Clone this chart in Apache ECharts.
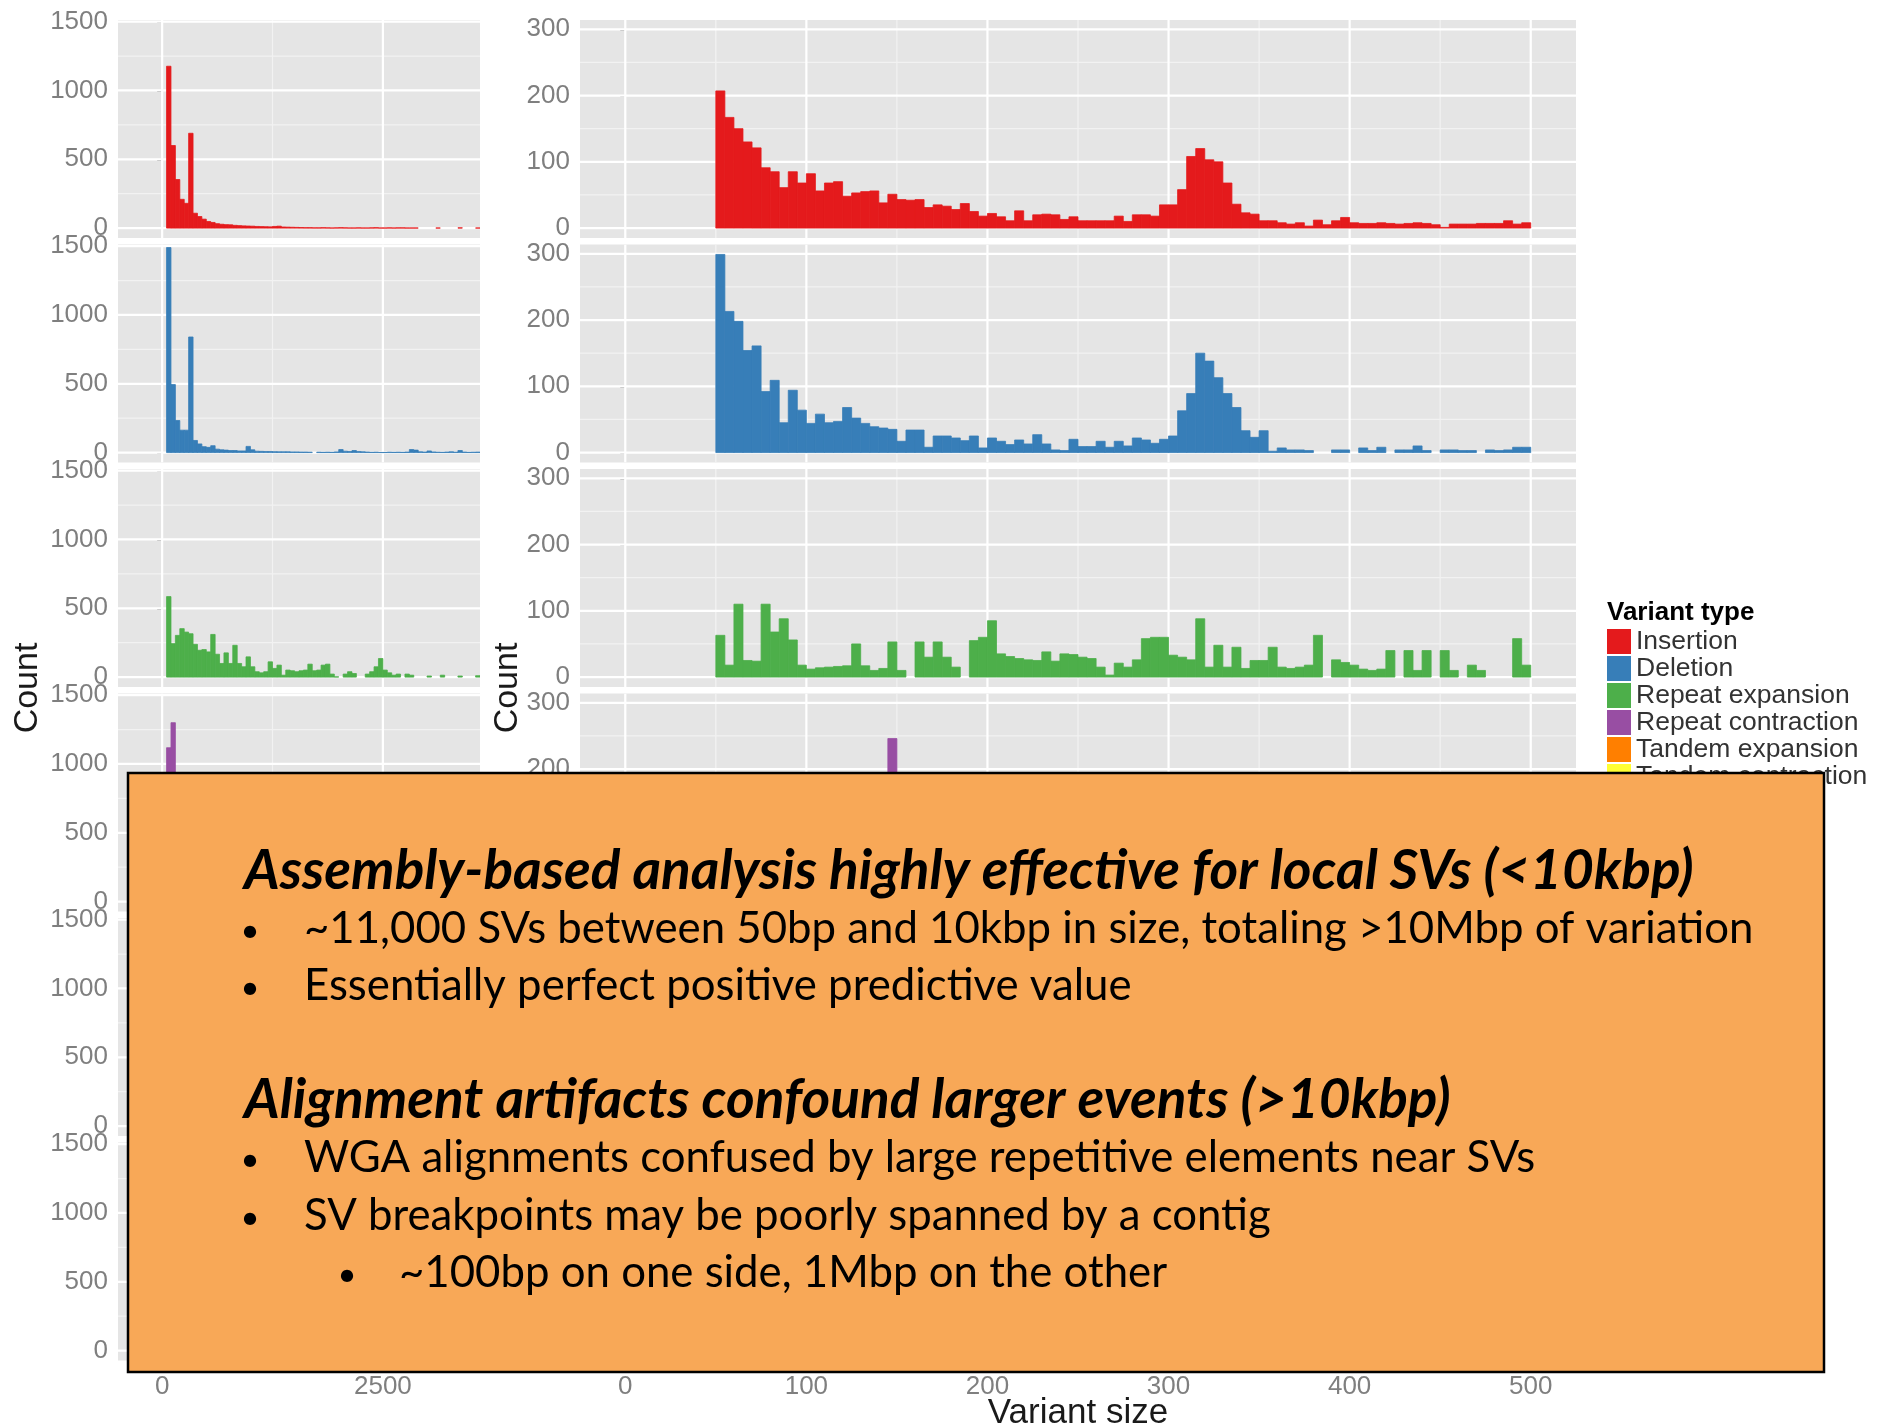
<!DOCTYPE html>
<html><head><meta charset="utf-8">
<script src="https://cdn.jsdelivr.net/npm/echarts@6/dist/echarts.min.js"></script>
<style>html,body{margin:0;padding:0;background:#fff}#c{width:1894px;height:1425px}</style>
</head><body><div id="c"></div>
<script>
// ---------------- data ----------------
const variantTypes = ['Insertion','Deletion','Repeat expansion','Repeat contraction','Tandem expansion','Tandem contraction'];
const typeColors = ['#E41A1C','#377EB8','#4DAF4A','#984EA3','#FF7F00','#FFFF33'];

// wide-range panels (left column): 50 bp bins starting at 50 bp
const wideBinStart = 50, wideBinWidth = 50;
const wideInsertion = [1176,600,353,209,180,689,108,84,65,48, 41,32,28,25,24,20,18,16,15,14, 12,11,10,9,12,14,8,7,6,5, 4,3,3,2,2,3,2,1,2,3, 2,1,1,2,1,1,2,3,1,1, 2,1,2,2,1,1,1,0,0,0, 0,1,0,0,0,0,2,0,0,0, 1];
const wideDeletion = [1490,494,233,163,163,840,88,63,43,38, 50,25,20,18,15,15,12,12,45,20, 10,9,8,8,7,6,6,6,5,5, 4,4,3,0,3,2,3,2,5,22, 10,8,15,8,6,4,2,3,1,1, 3,2,3,2,4,22,18,6,4,12, 5,3,2,4,6,3,15,4,2,3, 4];
const wideRepeatExpansion = [585,243,303,352,327,315,238,195,200,183, 310,166,99,176,99,231,99,75,147,75, 39,31,39,111,63,87,14,51,46,39, 46,51,94,46,51,87,94,22,2,0, 22,39,26,0,0,22,39,75,135,51, 31,14,22,0,22,14,0,0,0,8, 0,0,14,0,0,0,8,0,0,0, 10];
const wideRepeatContraction = [1118,1300];
const wideTandemExpansion = [];
const wideTandemContraction = [];

// zoomed panels (right column): 5 bp bins from 50 to 500 bp
const narrowBinStart = 50, narrowBinWidth = 5;
const narrowInsertion = [207,167,150,130,121,91,85,61,85,68, 82,56,68,70,48,53,55,56,38,51, 43,42,43,31,35,33,28,37,25,18, 22,17,11,26,11,20,21,20,13,17, 11,11,11,11,18,10,20,20,18,35, 35,58,108,120,103,100,68,36,23,21, 11,11,8,6,8,3,12,5,11,16, 8,7,7,8,7,6,7,8,7,5, 1,6,6,6,7,7,7,11,6,8];
const narrowDeletion = [299,213,198,154,161,92,109,45,94,64, 44,58,45,47,68,52,44,39,37,35, 17,34,34,8,25,25,22,18,25,7, 22,17,12,19,13,27,13,4,3,20, 9,9,17,8,17,10,22,19,14,20, 25,63,89,150,138,113,89,68,33,23, 33,2,7,4,4,3,0,0,4,4, 0,7,3,8,0,4,4,10,3,0, 4,4,3,3,0,4,3,4,8,8];
const narrowRepeatExpansion = [63,18,110,25,24,110,68,88,56,18, 12,14,15,16,17,50,17,10,13,53, 10,0,53,30,53,30,15,0,55,60, 85,35,31,28,26,25,38,24,35,34, 30,28,15,3,21,15,26,58,60,60, 33,30,26,88,15,48,15,45,13,25, 25,45,15,13,15,18,63,0,26,22, 18,12,10,12,40,0,40,10,40,0, 40,10,0,18,10,0,0,0,58,18];
const narrowRepeatContraction = [null,null,null,null,null,null,null,null,null,null, null,null,null,null,null,null,null,null,null,246];
const narrowTandemExpansion = [];
const narrowTandemContraction = [];

// tick labels
const wideXTicks = [0, 2500], wideXMinor = [1250];
const narrowXTicks = [0, 100, 200, 300, 400, 500], narrowXMinor = [50, 150, 250, 350, 450];
const wideYTicks = [0, 500, 1000, 1500], wideYMinor = [250, 750, 1250];
const narrowYTicks = [0, 100, 200, 300], narrowYMinor = [50, 150, 250];

const wideCounts = [wideInsertion, wideDeletion, wideRepeatExpansion, wideRepeatContraction, wideTandemExpansion, wideTandemContraction];
const narrowCounts = [narrowInsertion, narrowDeletion, narrowRepeatExpansion, narrowRepeatContraction, narrowTandemExpansion, narrowTandemContraction];

// ---------------- chart ----------------
const chart = echarts.init(document.getElementById('c'), null, {renderer: 'canvas'});
const TICK_FONT = 'Liberation Sans';
const tickColor = '#7F7F7F';
const plain = v => String(v);

function barRender(params, api) {
  const c = api.value(2);
  if (c === null || c === undefined || isNaN(c) || c <= 0) return;
  const p0 = api.coord([api.value(0), 0]);
  const p1 = api.coord([api.value(1), c]);
  const col = api.visual('color');
  return {type: 'rect', shape: {x: p0[0], y: p1[1], width: p1[0] - p0[0], height: p0[1] - p1[1]},
          style: {fill: col, stroke: col, lineWidth: 0.8}};
}
function gridRender(params, api) {
  const dir = api.value(0), v = api.value(1), major = api.value(2);
  const cs = params.coordSys;
  let shape;
  if (dir === 0) { const x = api.coord([v, 0])[0]; shape = {x1: x, y1: cs.y, x2: x, y2: cs.y + cs.height}; }
  else { const y = api.coord([0, v])[1]; shape = {x1: cs.x, y1: y, x2: cs.x + cs.width, y2: y}; }
  return {type: 'line', shape, style: {stroke: major ? '#FFFFFF' : '#F2F2F2', lineWidth: major ? 2.2 : 1.2}};
}

const grids = [], xAxes = [], yAxes = [], series = [];
for (let r = 0; r < 6; r++) {
  for (let c = 0; c < 2; c++) {
    const idx = r * 2 + c;
    const narrow = c === 1;
    const bottom = r === 5;
    grids.push({left: narrow ? 580 : 118, width: narrow ? 996 : 362, top: 20 + 224.5 * r, height: 218,
                show: true, backgroundColor: '#E5E5E5', borderWidth: 0, containLabel: false});
    const xt = narrow ? narrowXTicks : wideXTicks;
    const yt = narrow ? narrowYTicks : wideYTicks;
    xAxes.push({type: 'value', gridIndex: idx, min: narrow ? -25 : -500, max: narrow ? 525 : 3600,
      axisLine: {show: false}, splitLine: {show: false},
      axisTick: {show: bottom, length: 5, lineStyle: {color: tickColor, width: 1.5}, customValues: xt},
      axisLabel: {show: bottom, margin: 13, color: tickColor, fontSize: 26, fontFamily: TICK_FONT, customValues: xt, formatter: plain}});
    yAxes.push({type: 'value', gridIndex: idx, min: narrow ? -15 : -72, max: narrow ? 314 : 1512,
      axisLine: {show: false}, splitLine: {show: false},
      axisTick: {show: true, length: 5, lineStyle: {color: tickColor, width: 1.5}, customValues: yt},
      axisLabel: {show: true, margin: 10, color: tickColor, fontSize: 26, fontFamily: TICK_FONT, customValues: yt, formatter: plain}});
    const gl = [];
    (narrow ? narrowXMinor : wideXMinor).forEach(v => gl.push([0, v, 0]));
    (narrow ? narrowYMinor : wideYMinor).forEach(v => gl.push([1, v, 0]));
    xt.forEach(v => gl.push([0, v, 1]));
    yt.forEach(v => gl.push([1, v, 1]));
    series.push({type: 'custom', xAxisIndex: idx, yAxisIndex: idx, z: 1, silent: true, clip: true,
                 renderItem: gridRender, data: gl});
    const counts = narrow ? narrowCounts[r] : wideCounts[r];
    const start = narrow ? narrowBinStart : wideBinStart;
    const w = narrow ? narrowBinWidth : wideBinWidth;
    series.push({type: 'custom', name: variantTypes[r], xAxisIndex: idx, yAxisIndex: idx, z: 2, silent: true, clip: true,
                 itemStyle: {color: typeColors[r]}, renderItem: barRender, encode: {x: [0, 1], y: 2},
                 data: counts.map((v, k) => [start + k * w, start + (k + 1) * w, v])});
  }
}

// text of the overlay box
const heading1 = 'Assembly-based analysis highly effective for local SVs (<10kbp)';
const bullets1 = ['~11,000 SVs between 50bp and 10kbp in size, totaling >10Mbp of variation', 'Essentially perfect positive predictive value'];
const heading2 = 'Alignment artifacts confound larger events (>10kbp)';
const bullets2 = ['WGA alignments confused by large repetitive elements near SVs', 'SV breakpoints may be poorly spanned by a contig'];
const subBullet = '~100bp on one side, 1Mbp on the other';

const meas = document.createElement('canvas').getContext('2d');
function fit(text, style, family, target) {
  meas.font = style + ' 100px ' + family;
  return 100 * target / meas.measureText(text).width;
}
const BODY = 'Lato';
const bodySize = fit(bullets1[0], 'normal', BODY, 1450);
const headSize = fit(heading1, 'italic bold', BODY, 1450);

function txt(x, y, text, opts) {
  return Object.assign({type: 'text', x: x, y: y, z: 101, silent: true,
    style: Object.assign({text: text, fill: '#000', fontFamily: BODY, fontSize: bodySize,
      textAlign: 'left', textVerticalAlign: 'middle'}, opts || {})});
}
const bulletOpts = {textAlign: 'center', fontSize: bodySize * 0.75};

const graphics = [
  {type: 'rect', z: 100, silent: true, shape: {x: 128, y: 773, width: 1696, height: 599},
   style: {fill: '#F8A857', stroke: '#000', lineWidth: 2.5}},
  txt(244, 871, heading1, {fontStyle: 'italic', fontWeight: 'bold', fontSize: headSize}),
  txt(250, 931, '\u2022', bulletOpts),
  txt(304, 929, bullets1[0]),
  txt(250, 988, '\u2022', bulletOpts),
  txt(304, 986, bullets1[1]),
  txt(244, 1100, heading2, {fontStyle: 'italic', fontWeight: 'bold', fontSize: headSize}),
  txt(250, 1160, '\u2022', bulletOpts),
  txt(304, 1158, bullets2[0]),
  txt(250, 1218, '\u2022', bulletOpts),
  txt(304, 1216, bullets2[1]),
  txt(347, 1275, '\u2022', bulletOpts),
  txt(399, 1273, subBullet),
  // axis titles
  {type: 'text', x: 28, y: 688, rotation: Math.PI / 2, z: 5, silent: true,
   style: {text: 'Count', fill: '#1A1A1A', fontFamily: TICK_FONT, fontSize: 34, textAlign: 'center', textVerticalAlign: 'middle'}},
  {type: 'text', x: 508, y: 688, rotation: Math.PI / 2, z: 5, silent: true,
   style: {text: 'Count', fill: '#1A1A1A', fontFamily: TICK_FONT, fontSize: 34, textAlign: 'center', textVerticalAlign: 'middle'}},
  {type: 'text', x: 1078, y: 1413, z: 5, silent: true,
   style: {text: 'Variant size', fill: '#1A1A1A', fontFamily: TICK_FONT, fontSize: 35, textAlign: 'center', textVerticalAlign: 'middle'}},
  {type: 'text', x: 1607, y: 613, z: 5, silent: true,
   style: {text: 'Variant type', fill: '#000', fontFamily: TICK_FONT, fontWeight: 'bold', fontSize: 26, textAlign: 'left', textVerticalAlign: 'middle'}}
];

chart.setOption({
  animation: false,
  backgroundColor: '#FFFFFF',
  grid: grids, xAxis: xAxes, yAxis: yAxes, series: series,
  legend: {data: variantTypes, orient: 'vertical', left: 1607, top: 628, itemWidth: 24, itemHeight: 25, itemGap: 0,
           icon: 'rect', selectedMode: false, padding: 0,
           textStyle: {fontSize: 26.5, color: '#333', fontFamily: TICK_FONT, lineHeight: 25}},
  graphic: {elements: graphics}
});
</script></body></html>
